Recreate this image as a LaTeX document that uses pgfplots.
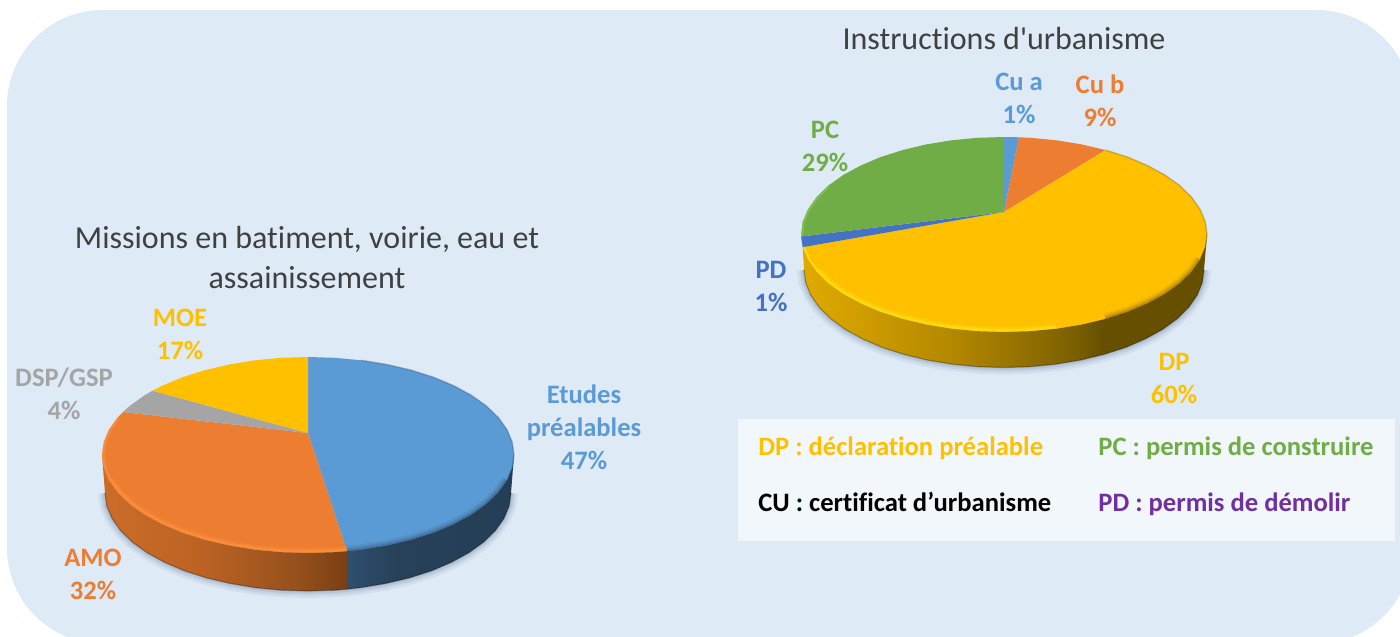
\documentclass[border=0pt]{standalone}
\usepackage{fontspec}
\setmainfont[Ligatures=NoCommon]{Carlito}
\newfontfamily\titlefont[Ligatures=NoCommon]{Carlito}
\usepackage{pgfplots}
\usepackage{pgfplotstable}
\pgfplotsset{compat=1.18}

\definecolor{panelbg}{HTML}{DEEAF6}
\definecolor{legendbg}{HTML}{F2F7FB}
\definecolor{cblue}{HTML}{5B9BD5}
\definecolor{corange}{HTML}{ED7D31}
\definecolor{cgrey}{HTML}{A5A5A5}
\definecolor{cyellow}{HTML}{FFC000}
\definecolor{cgreen}{HTML}{70AD47}
\definecolor{cdblue}{HTML}{4472C4}
\definecolor{cpurple}{HTML}{7030A0}
\definecolor{ctitle}{HTML}{404040}
\definecolor{cshadow}{HTML}{5F7A99}
\definecolor{orange1}{HTML}{CC6C28}
\definecolor{orange2}{HTML}{BC6324}
\definecolor{orange3}{HTML}{95501C}
\definecolor{orange4}{HTML}{7A3F14}
\definecolor{blue1}{HTML}{2F4F70}
\definecolor{blue2}{HTML}{264158}
\definecolor{blue3}{HTML}{243E57}
\definecolor{yellow1}{HTML}{E0AA00}
\definecolor{yellow2}{HTML}{B58900}
\definecolor{yellow3}{HTML}{7A5E00}
\definecolor{yellow4}{HTML}{665000}
\definecolor{orangerim}{HTML}{FF9440}
\definecolor{yellowrim}{HTML}{FFE414}
\definecolor{greenrim}{HTML}{82BE50}

\pgfdeclarehorizontalshading{orangeside}{100bp}{
  color(0bp)=(orange1); color(25bp)=(orange1); color(45bp)=(orange2);
  color(65bp)=(orange3); color(75bp)=(orange4); color(100bp)=(orange4)}
\pgfdeclarehorizontalshading{blueside}{100bp}{
  color(0bp)=(blue1); color(25bp)=(blue1); color(40bp)=(blue2);
  color(75bp)=(blue3); color(100bp)=(blue3)}
\pgfdeclarehorizontalshading{yellowside}{100bp}{
  color(0bp)=(yellow1); color(25bp)=(yellow1); color(43bp)=(yellow2);
  color(59bp)=(yellow3); color(62bp)=(yellow4); color(75bp)=(yellow4); color(100bp)=(yellow4)}

\tikzset{
  lab/.style={font=\fontsize{13.3}{16.5}\selectfont\bfseries, align=center, inner sep=0pt},
  ttl/.style={font=\titlefont\fontsize{16}{20}\selectfont, text=ctitle, align=center, inner sep=0pt},
  leg/.style={font=\fontsize{13.3}{15}\selectfont\bfseries, anchor=base west, inner sep=0pt},
}

% lower rims of the two discs
\pgfplotstableread{
x y
511 493
509.3 505.8
504 518.4
495.5 530.5
483.8 542
469 552.7
451.5 562.3
431.6 570.8
409.5 577.9
385.7 583.5
360.5 587.7
347 589.2
334.5 590.2
308 591
281.5 590.2
255.5 587.7
230.3 583.5
206.5 577.9
184.4 570.8
164.5 562.3
147 552.7
132.2 542
120.5 530.5
112 518.4
106.7 505.8
105 493
}\leftbottom
\pgfplotstableread{
x y
1204 270
1202.3 282.7
1197.2 295.2
1188.8 307.3
1177.2 318.8
1162.7 329.4
1145.4 338.9
1125.8 347.4
1104 354.4
1080.5 360.1
1055.8 364.2
1030.1 366.7
1004 367.5
977.9 366.7
952.2 364.2
927.5 360.1
904 354.4
882.2 347.4
862.6 338.9
845.3 329.4
830.8 318.8
819.2 307.3
810.8 295.2
805.7 282.7
804 270
}\rightbottom
% rim of the top face, front half
\pgfplotstableread{
x y
507 480.4
498.3 492.5
486.4 504
471.4 514.7
453.7 524.3
433.4 532.8
411 539.9
386.8 545.5
361.3 549.7
347 551.2
}\leftrimblue
\pgfplotstableread{
x y
347 551.2
334.9 552.2
308 553
281.1 552.2
254.7 549.7
229.2 545.5
205 539.9
182.6 532.8
162.3 524.3
144.6 514.7
129.6 504
117.7 492.5
109 480.4
}\leftrimorange
\pgfplotstableread{
x y
1200 259.7
1191.5 271.8
1179.8 283.3
1165 293.9
1147.5 303.4
1127.6 311.9
1105.5 318.9
}\rightrimdark
\pgfplotstableread{
x y
1056.5 328.7
1030.5 331.2
1004 332
977.5 331.2
951.5 328.7
926.3 324.6
902.5 318.9
880.4 311.9
860.5 303.4
843 293.9
828.2 283.3
816.5 271.8
}\rightrimbright

\begin{document}
\begin{tikzpicture}
\begin{axis}[
  scale only axis,
  width=700pt, height=318pt,
  xmin=0, xmax=1400, ymin=0, ymax=636,
  y dir=reverse,
  hide axis,
]
% background and legend panel
\addplot[fill=panelbg, draw=none, rounded corners=48pt] coordinates {
  (7,10) (1412,10) (1412,644) (7,644)} --cycle;
\addplot[fill=legendbg, draw=none] coordinates {
  (738,419) (1395,419) (1395,541) (738,541)} --cycle;

% soft shadows
\addplot[draw=cshadow, opacity=.10, line width=7pt] table {\leftbottom};
\addplot[draw=cshadow, opacity=.12, line width=4.5pt] table {\leftbottom};
\addplot[draw=cshadow, opacity=.15, line width=2.5pt] table {\leftbottom};
\addplot[draw=cshadow, opacity=.10, line width=7pt] table {\rightbottom};
\addplot[draw=cshadow, opacity=.12, line width=4.5pt] table {\rightbottom};
\addplot[draw=cshadow, opacity=.15, line width=2.5pt] table {\rightbottom};

% left disc, top: Etudes prealables 47, AMO 32, DSP/GSP 4, MOE 17
\addplot[fill=cblue, draw=none] coordinates {
  (308,433) (308,357) (334.9,357.8) (361.3,360.3) (386.8,364.5) (411,370.1) (433.4,377.2)
  (453.7,385.7) (471.4,395.3) (486.4,406) (498.3,417.5) (507,429.6) (512.2,442.2)
  (514,455) (512.2,467.8) (507,480.4) (498.3,492.5) (486.4,504) (471.4,514.7)
  (453.7,524.3) (433.4,532.8) (411,539.9) (386.8,545.5) (361.3,549.7) (347,551.2)} --cycle;
\addplot[fill=corange, draw=none] coordinates {
  (308,433) (347,551.2) (334.9,552.2) (308,553) (281.1,552.2) (254.7,549.7) (229.2,545.5)
  (205,539.9) (182.6,532.8) (162.3,524.3) (144.6,514.7) (129.6,504) (117.7,492.5)
  (109,480.4) (103.8,467.8) (102,455) (103.8,442.2) (109,429.6) (117.7,417.5) (123,412)} --cycle;
\addplot[fill=cgrey, draw=none] coordinates {
  (308,433) (123,412) (129.6,406) (144.6,395.3) (152.5,390.7)} --cycle;
\addplot[fill=cyellow, draw=none] coordinates {
  (308,433) (152.5,390.7) (162.3,385.7) (182.6,377.2) (205,370.1) (229.2,364.5)
  (254.7,360.3) (281.1,357.8) (308,357)} --cycle;

% left disc, bevel (the side is drawn over its outer half)
\addplot[draw=blue1, opacity=.12, line width=5.5pt] table {\leftrimblue};
\addplot[draw=blue1, opacity=.18, line width=3.5pt] table {\leftrimblue};
\addplot[draw=blue1, opacity=.30, line width=1.8pt] table {\leftrimblue};
\addplot[draw=blue1, opacity=.35, line width=.7pt] coordinates {
  (361.3,360.3) (386.8,364.5) (411,370.1) (433.4,377.2) (453.7,385.7) (471.4,395.3)
  (486.4,406) (498.3,417.5) (507,429.6) (512.2,442.2) (514,455) (512.2,467.8) (507,480.4)};
\addplot[draw=orangerim, opacity=.30, line width=5pt] table {\leftrimorange};
\addplot[draw=orangerim, opacity=.55, line width=3pt] table {\leftrimorange};
\addplot[draw=orangerim, opacity=.6, line width=1.2pt] coordinates {
  (110,480) (105,467.6) (103.2,455) (105,442.4) (110.2,430) (118.6,418)};

% left disc, side
\addplot[draw=none, shading=blueside] coordinates {
  (514,455) (512.2,467.8) (507,480.4) (498.3,492.5) (486.4,504) (471.4,514.7)
  (453.7,524.3) (433.4,532.8) (411,539.9) (386.8,545.5) (361.3,549.7) (347,551.2)
  (347,589.2) (360.5,587.7) (385.7,583.5) (409.5,577.9) (431.6,570.8) (451.5,562.3)
  (469,552.7) (483.8,542) (495.5,530.5) (504,518.4) (509.3,505.8) (511,493)} --cycle;
\addplot[draw=none, shading=orangeside] coordinates {
  (347,551.2) (334.9,552.2) (308,553) (281.1,552.2) (254.7,549.7) (229.2,545.5)
  (205,539.9) (182.6,532.8) (162.3,524.3) (144.6,514.7) (129.6,504) (117.7,492.5)
  (109,480.4) (103.8,467.8) (102,455)
  (105,493) (106.7,505.8) (112,518.4) (120.5,530.5) (132.2,542) (147,552.7)
  (164.5,562.3) (184.4,570.8) (206.5,577.9) (230.3,583.5) (255.5,587.7) (281.5,590.2)
  (308,591) (334.5,590.2) (347,589.2)} --cycle;
\addplot[draw=black, opacity=.3, line width=.6pt] table {\leftbottom};

% right disc, top: Cu a 1, Cu b 9, DP 60, PD 1, PC 29
\addplot[fill=cblue, draw=none] coordinates {
  (1004,212) (1004,137) (1019,137.3)} --cycle;
\addplot[fill=corange, draw=none] coordinates {
  (1004,212) (1019,137.3) (1030.5,137.8) (1056.5,140.3) (1081.7,144.4) (1105.5,150.1)} --cycle;
\addplot[fill=cyellow, draw=none] coordinates {
  (1004,212) (1105.5,150.1) (1127.6,157.1) (1147.5,165.6) (1165,175.1) (1179.8,185.7)
  (1191.5,197.2) (1200,209.3) (1205.3,221.8) (1207,234.5) (1205.3,247.2) (1200,259.7)
  (1191.5,271.8) (1179.8,283.3) (1165,293.9) (1147.5,303.4) (1127.6,311.9) (1105.5,318.9)
  (1081.7,324.6) (1056.5,328.7) (1030.5,331.2) (1004,332) (977.5,331.2) (951.5,328.7)
  (926.3,324.6) (902.5,318.9) (880.4,311.9) (860.5,303.4) (843,293.9) (828.2,283.3)
  (816.5,271.8) (808,259.7) (802.7,247.2)} --cycle;
\addplot[fill=cdblue, draw=none] coordinates {
  (1004,212) (802.7,247.2) (801,236.5)} --cycle;
\addplot[fill=cgreen, draw=none] coordinates {
  (1004,212) (801,236.5) (802.7,221.8) (808,209.3) (816.5,197.2) (828.2,185.7) (843,175.1)
  (860.5,165.6) (880.4,157.1) (902.5,150.1) (926.3,144.4) (951.5,140.3) (977.5,137.8)
  (1004,137)} --cycle;

% right disc, bevel
\addplot[draw=yellow3, opacity=.12, line width=5.5pt] table {\rightrimdark};
\addplot[draw=yellow3, opacity=.18, line width=3.5pt] table {\rightrimdark};
\addplot[draw=yellow3, opacity=.30, line width=1.8pt] table {\rightrimdark};
\addplot[draw=yellow3, opacity=.35, line width=.7pt] coordinates {
  (1105.5,150.1) (1127.6,157.1) (1147.5,165.6) (1165,175.1) (1179.8,185.7) (1191.5,197.2)
  (1200,209.3) (1205.3,221.8) (1207,234.5) (1205.3,247.2) (1200,259.7)};
\addplot[draw=yellowrim, opacity=.30, line width=5pt] table {\rightrimbright};
\addplot[draw=yellowrim, opacity=.55, line width=3pt] table {\rightrimbright};
\addplot[draw=yellowrim, opacity=.7, line width=1.2pt] coordinates {
  (817.5,271) (809,259) (803.8,247.2)};
\addplot[draw=greenrim, line width=1pt] coordinates {
  (802,236) (803.7,222) (809,209.8) (817.4,197.8) (829,186.4)};

% right disc, side
\addplot[draw=none, shading=yellowside] coordinates {
  (1207,234.5) (1205.3,247.2) (1200,259.7) (1191.5,271.8) (1179.8,283.3) (1165,293.9)
  (1147.5,303.4) (1127.6,311.9) (1105.5,318.9) (1081.7,324.6) (1056.5,328.7) (1030.5,331.2)
  (1004,332) (977.5,331.2) (951.5,328.7) (926.3,324.6) (902.5,318.9) (880.4,311.9)
  (860.5,303.4) (843,293.9) (828.2,283.3) (816.5,271.8) (808,259.7) (802.7,247.2)
  (804,270) (805.7,282.7) (810.8,295.2) (819.2,307.3) (830.8,318.8) (845.3,329.4)
  (862.6,338.9) (882.2,347.4) (904,354.4) (927.5,360.1) (952.2,364.2) (977.9,366.7)
  (1004,367.5) (1030.1,366.7) (1055.8,364.2) (1080.5,360.1) (1104,354.4) (1125.8,347.4)
  (1145.4,338.9) (1162.7,329.4) (1177.2,318.8) (1188.8,307.3) (1197.2,295.2) (1202.3,282.7)
  (1204,270)} --cycle;
\addplot[draw=black, opacity=.3, line width=.6pt] table {\rightbottom};

% titles
\node[ttl] at (axis cs:1004,39) {Instructions d'urbanisme};
\node[ttl] at (axis cs:307,258) {Missions en batiment, voirie, eau et\\assainissement};

% slice labels
\node[lab, text=cblue] at (axis cs:584,427) {Etudes\\préalables\\47\%};
\node[lab, text=corange] at (axis cs:93,574) {AMO\\32\%};
\node[lab, text=cgrey] at (axis cs:64,394) {DSP/GSP\\4\%};
\node[lab, text=cyellow] at (axis cs:180,334) {MOE\\17\%};
\node[lab, text=cblue] at (axis cs:1019,98) {Cu a\\1\%};
\node[lab, text=corange] at (axis cs:1100,101) {Cu b\\9\%};
\node[lab, text=cgreen] at (axis cs:825,146) {PC\\29\%};
\node[lab, text=cdblue] at (axis cs:771,286) {PD\\1\%};
\node[lab, text=cyellow] at (axis cs:1174,378) {DP\\60\%};

% glossary
\node[leg, text=cyellow] at (axis cs:758,455) {DP : déclaration préalable};
\node[leg, text=cgreen] at (axis cs:1098,455) {PC : permis de construire};
\node[leg, text=black] at (axis cs:758,511) {CU : certificat d’urbanisme};
\node[leg, text=cpurple] at (axis cs:1098,511) {PD : permis de démolir};
\end{axis}
\pgfresetboundingbox
\useasboundingbox (0,0) rectangle (700pt,318pt);
\end{tikzpicture}
\end{document}
